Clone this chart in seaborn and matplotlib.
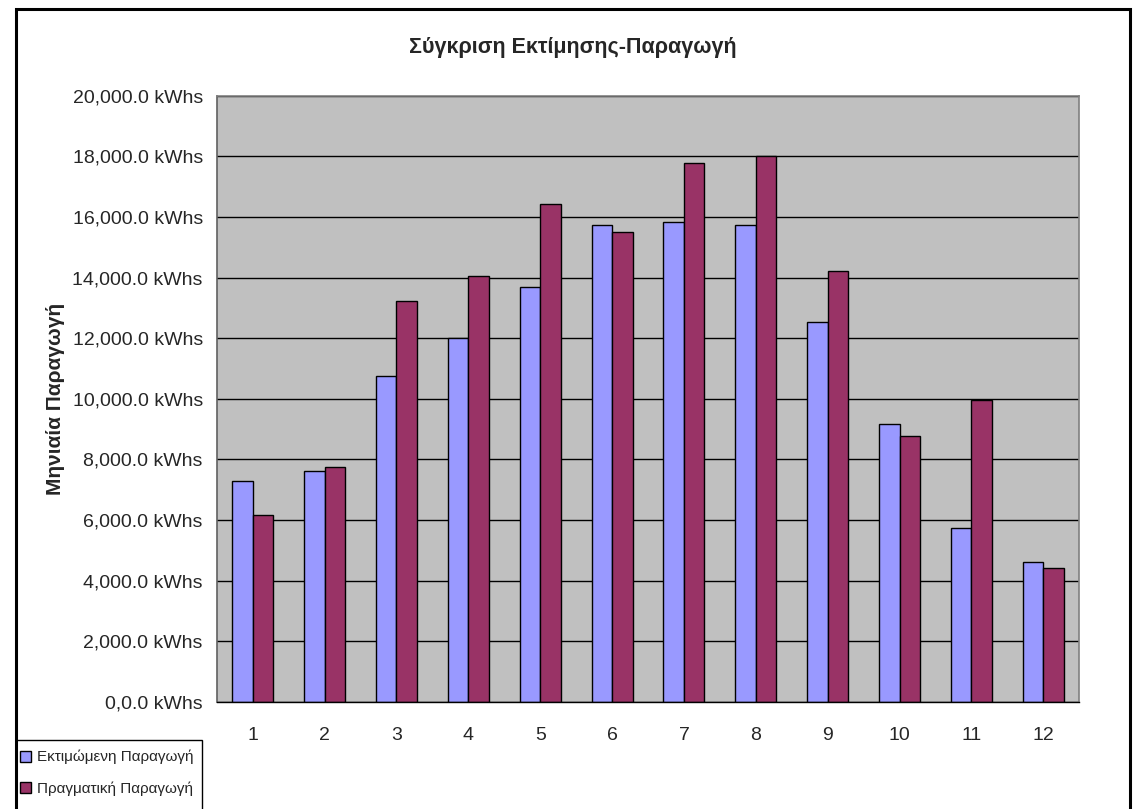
import numpy as np
import pandas as pd
import seaborn as sns
import matplotlib.pyplot as plt
from matplotlib.patches import Patch, Rectangle

# monthly values (kWh)
months = ['1', '2', '3', '4', '5', '6', '7', '8', '9', '10', '11', '12']
estimated = [7290, 7630, 10770, 12000, 13680, 15720, 15840, 15720, 12520, 9180, 5730, 4630]
actual = [6170, 7740, 13230, 14060, 16440, 15500, 17780, 18000, 14230, 8780, 9950, 4410]

series_names = ['Εκτιμώμενη Παραγωγή', 'Πραγματική Παραγωγή']
series_colors = ['#9999FF', '#993366']

y_ticks = [0, 2000, 4000, 6000, 8000, 10000, 12000, 14000, 16000, 18000, 20000]
y_tick_labels = ['0,0.0 kWhs', '2,000.0 kWhs', '4,000.0 kWhs', '6,000.0 kWhs',
                 '8,000.0 kWhs', '10,000.0 kWhs', '12,000.0 kWhs', '14,000.0 kWhs',
                 '16,000.0 kWhs', '18,000.0 kWhs', '20,000.0 kWhs']

title = 'Σύγκριση Εκτίμησης-Παραγωγή'
y_label = 'Μηνιαία Παραγωγή'

df = pd.DataFrame({
    'month': months * 2,
    'value': estimated + actual,
    'series': [series_names[0]] * len(months) + [series_names[1]] * len(months),
})

sns.set_style('white')
plt.rcParams['font.family'] = ['Liberation Sans', 'DejaVu Sans']

W, H = 1135, 809
fig = plt.figure(figsize=(W / 100, H / 100), dpi=100)
ax = fig.add_axes([216.7 / W, 1 - 702 / H, (1079.3 - 216.7) / W, (702 - 95.7) / H])

sns.barplot(
    data=df, x='month', y='value', hue='series',
    palette=series_colors, order=months, hue_order=series_names,
    width=0.57, edgecolor='black', linewidth=1.0, saturation=1,
    legend=False, ax=ax,
)

ax.set_facecolor('#C0C0C0')
ax.set_xlim(-0.5, len(months) - 0.5)
ax.set_ylim(0, 20000)
ax.set_yticks(y_ticks)
ax.set_yticklabels(y_tick_labels, fontsize=14)
ax.yaxis.grid(True, color='black', linewidth=1.0)
ax.set_axisbelow(True)

# x labels at centers, tick marks at category borders
ax.set_xticks(range(len(months)))
ax.set_xticklabels(months, fontsize=14)
ax.set_xticks(np.arange(-0.5, len(months)), minor=True)
ax.tick_params(axis='x', which='major', length=0, pad=18)
ax.tick_params(axis='x', which='minor', length=6, width=1, color='black', direction='out')
ax.tick_params(axis='y', which='major', length=6, width=1, color='black', direction='out', pad=4)
ax.set_xlabel('')
ax.set_ylabel(y_label, fontsize=15, fontweight='bold', labelpad=5)

for side in ['top', 'right']:
    ax.spines[side].set_color('#808080')
    ax.spines[side].set_linewidth(1.2)
ax.spines['left'].set_color('#606060')
ax.spines['left'].set_linewidth(1.2)
ax.spines['bottom'].set_color('black')
ax.spines['bottom'].set_linewidth(1.0)

fig.text(573 / W, 1 - 47 / H, title, ha='center', va='center',
         fontsize=15.5, fontweight='bold')

handles = [Patch(facecolor=c, edgecolor='black', linewidth=1.0) for c in series_colors]
leg = fig.legend(
    handles, series_names, loc='upper left',
    bbox_to_anchor=(20 / W, 1 - 750 / H), fontsize=11, frameon=False,
    handlelength=0.7, handleheight=0.7, handletextpad=0.4,
    labelspacing=1.1, borderpad=0, borderaxespad=0,
)

# legend box, cut by the lower image edge like the original
fig.patches.append(Rectangle((16 / W, -0.05), (202 - 16) / W, 0.05 + 1 - 740 / H,
                             transform=fig.transFigure, fill=False,
                             edgecolor='black', linewidth=1.0))

# outer chart border
fig.patches.append(Rectangle((16 / W, -0.05), (1130 - 16) / W, 1.05 - 8.5 / H,
                             transform=fig.transFigure, fill=False,
                             edgecolor='black', linewidth=2.2))

fig.savefig('out.png', dpi=100)
